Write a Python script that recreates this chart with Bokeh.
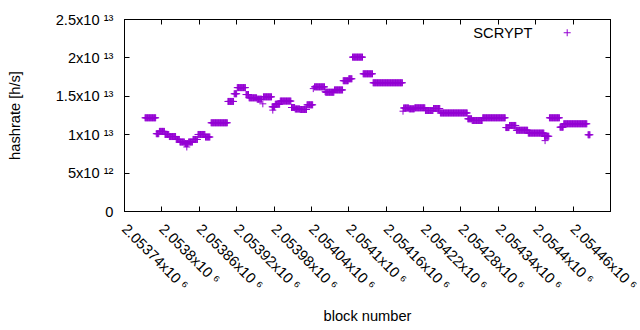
import math
import numpy as np
from bokeh.plotting import figure
from bokeh.models import Range1d, FixedTicker, LinearAxis, Label, CustomJSTickFormatter
from bokeh.embed import file_html
from bokeh.resources import INLINE

# ---- data: run-length segments (block range, hashrate) ----
seg_start = [2053773, 2053791, 2053796, 2053805, 2053812, 2053823, 2053829, 2053837, 2053840,
             2053843, 2053850, 2053858, 2053870, 2053879, 2053906, 2053916, 2053921, 2053935,
             2053940, 2053953, 2053962, 2053963, 2053977, 2053978, 2053982, 2053990, 2054008,
             2054014, 2054022, 2054033, 2054043, 2054045, 2054062, 2054063, 2054077, 2054091,
             2054100, 2054106, 2054123, 2054139, 2054187, 2054188, 2054197, 2054206, 2054223,
             2054236, 2054247, 2054291, 2054298, 2054315, 2054352, 2054358, 2054369, 2054388,
             2054414, 2054415, 2054422, 2054439, 2054445, 2054484]
seg_end = [2053790, 2053795, 2053804, 2053811, 2053822, 2053828, 2053836, 2053842, 2053840,
           2053849, 2053857, 2053869, 2053877, 2053905, 2053915, 2053920, 2053934, 2053939,
           2053952, 2053960, 2053962, 2053976, 2053981, 2053978, 2053989, 2054007, 2054013,
           2054021, 2054032, 2054042, 2054043, 2054061, 2054062, 2054076, 2054090, 2054099,
           2054105, 2054122, 2054138, 2054186, 2054187, 2054196, 2054205, 2054222, 2054235,
           2054246, 2054290, 2054297, 2054314, 2054351, 2054357, 2054368, 2054387, 2054413,
           2054421, 2054415, 2054438, 2054444, 2054482, 2054487]
seg_rate = [1.220e13, 1.013e13, 1.043e13, 1.003e13, 0.976e13, 0.938e13, 0.905e13, 0.885e13, 0.840e13,
            0.905e13, 0.938e13, 1.003e13, 0.970e13, 1.155e13, 1.433e13, 1.533e13, 1.613e13, 1.523e13,
            1.480e13, 1.462e13, 1.402e13, 1.493e13, 1.363e13, 1.320e13, 1.397e13, 1.438e13, 1.354e13,
            1.335e13, 1.328e13, 1.389e13, 1.600e13, 1.623e13, 1.560e13, 1.553e13, 1.583e13, 1.703e13,
            1.728e13, 2.010e13, 1.793e13, 1.676e13, 1.306e13, 1.348e13, 1.337e13, 1.350e13, 1.315e13,
            1.341e13, 1.283e13, 1.207e13, 1.185e13, 1.220e13, 1.093e13, 1.120e13, 1.058e13, 1.021e13,
            0.980e13, 0.923e13, 1.220e13, 1.098e13, 1.142e13, 0.999e13]

x_ticks = [2053740, 2053800, 2053860, 2053920, 2053980, 2054040, 2054100,
           2054160, 2054220, 2054280, 2054340, 2054400, 2054460, 2054520]
# the last label (2.05452x10^6) lies past the window edge in the reference, so it is left blank
x_tick_labels = ["2.05374x10 ⁶", "2.0538x10 ⁶", "2.05386x10 ⁶", "2.05392x10 ⁶", "2.05398x10 ⁶",
                 "2.05404x10 ⁶", "2.0541x10 ⁶", "2.05416x10 ⁶", "2.05422x10 ⁶", "2.05428x10 ⁶",
                 "2.05434x10 ⁶", "2.0544x10 ⁶", "2.05446x10 ⁶", ""]
y_ticks = [0, 5e12, 1e13, 1.5e13, 2e13, 2.5e13]
y_tick_labels = ["0", "5x10 ¹²", "1x10 ¹³", "1.5x10 ¹³", "2x10 ¹³", "2.5x10 ¹³"]
series_name = "SCRYPT"

X0, X1 = 2053740, 2054520
Y0, Y1 = 0, 2.5e13

blocks = np.concatenate([np.arange(s, e + 1) for s, e in zip(seg_start, seg_end)])
rates = np.concatenate([np.full(e - s + 1, r) for s, e, r in zip(seg_start, seg_end, seg_rate)])

FONT = "Liberation Sans"
FS = "11pt"
COLOR = "#9400d3"

p = figure(frame_width=486, frame_height=192, min_border_left=124, min_border_right=30,
           min_border_top=19, min_border_bottom=119,
           x_range=Range1d(X0, X1), y_range=Range1d(Y0, Y1),
           output_backend="svg", toolbar_location=None)
p.grid.visible = False
p.outline_line_color = "black"
p.outline_line_width = 1
p.background_fill_color = "white"
p.border_fill_color = "white"

p.scatter(blocks, rates, marker="cross", size=7, line_color=COLOR, line_width=1)

bottom_ax = p.below[0]
left_ax = p.left[0]
top_ax = LinearAxis()
right_ax = LinearAxis()
p.add_layout(top_ax, "above")
p.add_layout(right_ax, "right")

def lookup_formatter(vals, labels):
    return CustomJSTickFormatter(args=dict(tvals=vals, tlabels=labels), code="""
        let best = -1, bd = Infinity;
        for (let i = 0; i < tvals.length; i++) {
            const d = Math.abs(tvals[i] - tick);
            if (d < bd) { bd = d; best = i; }
        }
        return tlabels[best];
    """)

blank = CustomJSTickFormatter(code="return ''")

for ax, tk in [(bottom_ax, x_ticks), (top_ax, x_ticks), (left_ax, y_ticks), (right_ax, y_ticks)]:
    ax.ticker = FixedTicker(ticks=tk)
    ax.major_tick_in = 5
    ax.major_tick_out = 0
    ax.minor_tick_line_color = None
    ax.axis_line_color = "black"
    ax.major_tick_line_color = "black"
    ax.major_label_text_font = FONT
    ax.major_label_text_font_size = FS
    ax.major_label_text_color = "black"
    ax.axis_label_text_font = FONT
    ax.axis_label_text_font_size = FS
    ax.axis_label_text_font_style = "normal"
    ax.axis_label_text_color = "black"

for ax in (top_ax, right_ax):
    ax.formatter = blank
    ax.major_label_text_font_size = "0px"
    ax.major_label_standoff = 0

bottom_ax.formatter = lookup_formatter(x_ticks, x_tick_labels)
bottom_ax.major_label_orientation = -math.pi / 4
bottom_ax.major_label_standoff = 15
bottom_ax.axis_label = "block number"
bottom_ax.axis_label_standoff = 6

left_ax.formatter = lookup_formatter(y_ticks, y_tick_labels)
left_ax.major_label_standoff = 11
left_ax.axis_label = "hashrate [h/s]"
left_ax.axis_label_standoff = 30

# key (gnuplot style: text then sample)
p.add_layout(Label(x=X1, y=Y1, text=series_name, text_align="right", text_baseline="middle",
                   x_offset=-78, y_offset=-13, text_font=FONT, text_font_size=FS,
                   text_color="black"))
p.scatter([X1 - (X1 - X0) * 43.3 / 486], [Y1 - (Y1 - Y0) * 13.2 / 191.5], marker="cross",
          size=7, line_color=COLOR, line_width=1)

open("out.html", "w").write(file_html(p, INLINE))
